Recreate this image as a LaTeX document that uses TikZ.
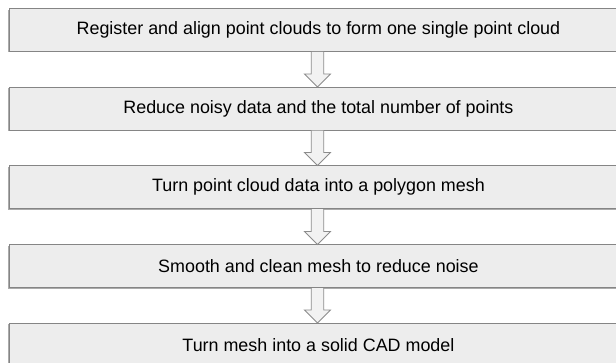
\documentclass[tikz,border=0pt]{standalone}
\usepackage{fontspec}
\setmainfont{Liberation Sans}
\usetikzlibrary{calc}
\definecolor{boxfill}{HTML}{EDEDED}
\definecolor{boxline}{HTML}{858585}
\definecolor{shadowc}{HTML}{ABABAB}
\definecolor{arrfill}{HTML}{F2F2F2}
\definecolor{arrline}{HTML}{8C8C8C}
\tikzset{
  stepbox/.style={draw=boxline, fill=boxfill, line width=0.9pt, minimum width=618pt,
    minimum height=42.7pt, inner sep=0pt, anchor=north west,
    font=\fontsize{17.9}{20}\selectfont, text=black},
  shadowbox/.style={fill=shadowc, minimum width=618pt, minimum height=42.7pt, inner sep=0pt, anchor=north west},
  bigarrow/.style={draw=arrline, fill=arrfill, line width=0.8pt, line join=miter}
}
\begin{document}
\begin{tikzpicture}[x=1pt,y=-1pt]
\useasboundingbox (0,0) rectangle (616,363);
\fill[white] (0,0) rectangle (616,363);
\foreach \i/\t/\txt in {1/8.3/{Register and align point clouds to form one single point cloud},
  2/87.0/{Reduce noisy data and the total number of points},
  3/165.5/{Turn point cloud data into a polygon mesh},
  4/244.5/{Smooth and clean mesh to reduce noise},
  5/323.0/{Turn mesh into a solid CAD model}}{
  \node[shadowbox] (sh\i) at (8,\t+1.2) {};
  \node[stepbox] (b\i) at (9,\t) {\txt};
}
\foreach \i/\j in {1/2,2/3,3/4,4/5}{
  \coordinate (s\i) at ($(b\i.south)+(-1,0)$);
  \coordinate (t\i) at ($(b\j.north)+(-1,0)$);
  \draw[bigarrow] ($(s\i)+(-6.2,0)$) -- ($(t\i)+(-6.2,-13)$) -- ($(t\i)+(-13,-13)$) -- (t\i)
     -- ($(t\i)+(13,-13)$) -- ($(t\i)+(6.2,-13)$) -- ($(s\i)+(6.2,0)$);
}
\end{tikzpicture}
\end{document}
